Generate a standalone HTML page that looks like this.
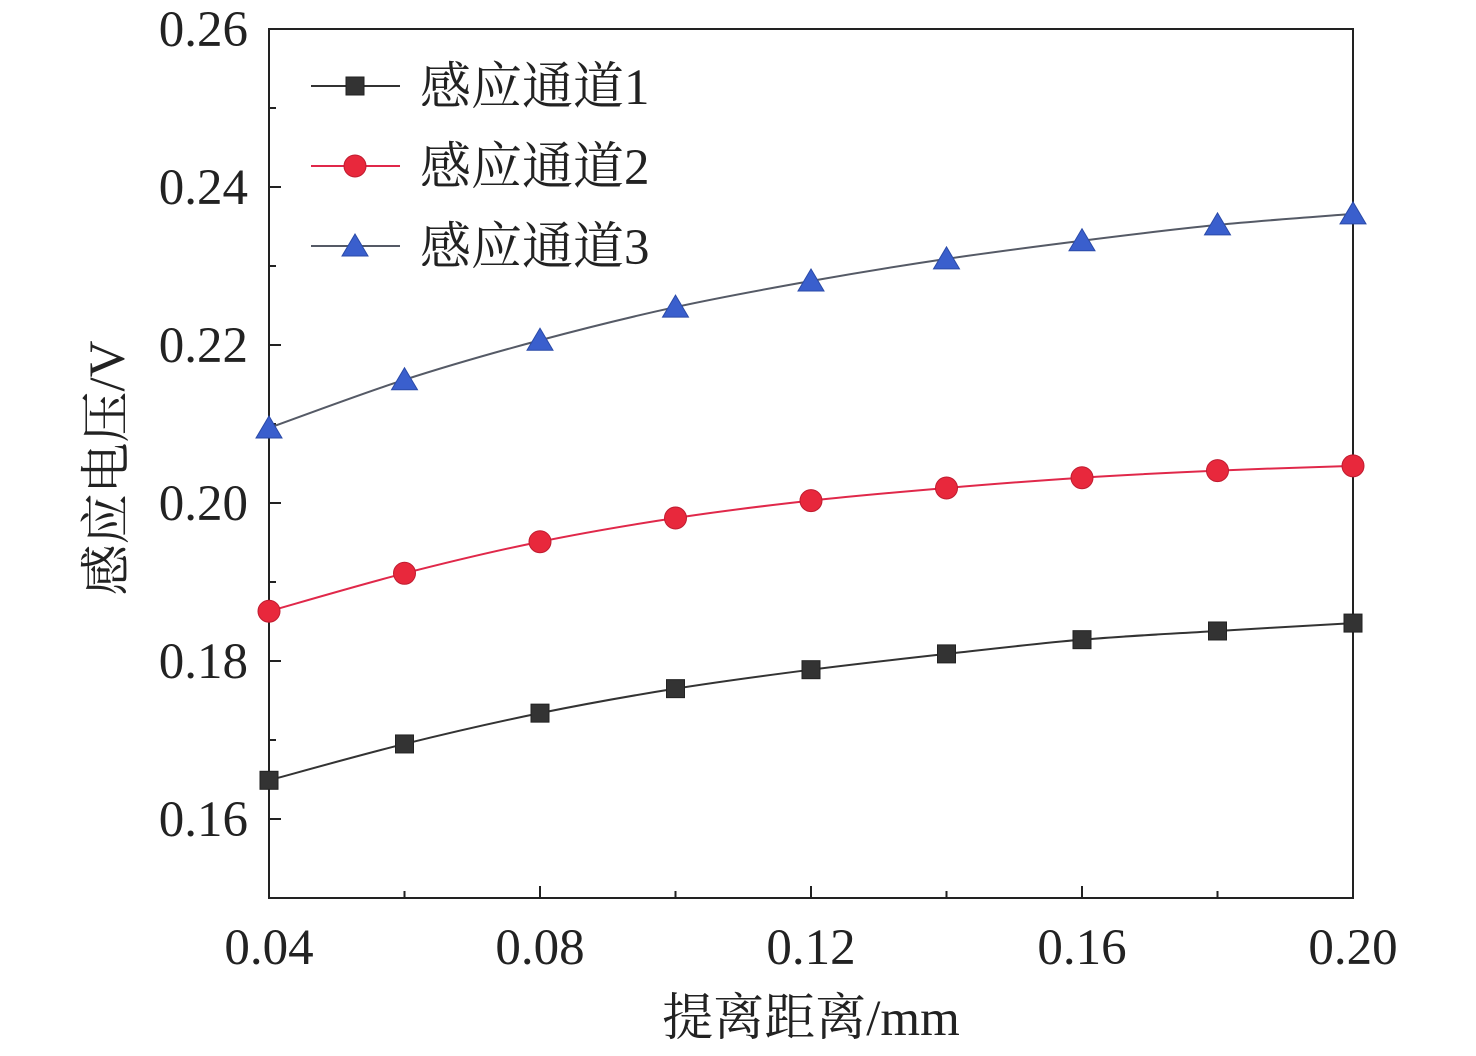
<!DOCTYPE html>
<html><head><meta charset="utf-8"><style>
body{margin:0;background:#fff}
svg text{font-family:"Liberation Serif","Noto Serif CJK SC",serif;fill:#222}
</style></head><body>
<svg id="chart" width="1476" height="1051" xmlns="http://www.w3.org/2000/svg">
<g id="axes"></g>
<g id="series"></g>
<g id="legend"></g>
<text x="811" y="1035" font-size="51" text-anchor="middle">提离距离/mm</text>
<text transform="translate(124,468) rotate(-90)" font-size="51" text-anchor="middle">感应电压/V</text>
</svg>
<script>
const xValues=[0.04,0.06,0.08,0.10,0.12,0.14,0.16,0.18,0.20];
const ch1=[0.1649,0.1695,0.1734,0.1765,0.1789,0.1809,0.1827,0.1838,0.1848];
const ch2=[0.1863,0.1911,0.1951,0.1981,0.2003,0.2019,0.2032,0.2041,0.2047];
const ch3=[0.2095,0.2156,0.2206,0.2248,0.2281,0.2309,0.2332,0.2352,0.2366];
const seriesNames=["感应通道1","感应通道2","感应通道3"];
const xTicks=[0.04,0.08,0.12,0.16,0.20];
const yTicks=[0.16,0.18,0.20,0.22,0.24,0.26];
const NS="http://www.w3.org/2000/svg";
const L=269,R=1353,T=29,B=898;
const sx=v=>L+(v-0.04)/(0.16)*(R-L);
const sy=v=>B-(v-0.15)/(0.11)*(B-T);
function mk(tag,attrs,parent){const e=document.createElementNS(NS,tag);for(const k in attrs)e.setAttribute(k,attrs[k]);parent.appendChild(e);return e;}
const axes=document.getElementById('axes');
let frame=mk('rect',{x:L,y:T,width:R-L,height:B-T,fill:'none',stroke:'#222','stroke-width':2},axes);


for(let v=0.15;v<=0.2601;v+=0.01){const y=sy(v);const major=Math.abs(Math.round(v*100)%2)==0;
 let t=mk('line',{x1:L,x2:L+(major?12:7),y1:y,y2:y,stroke:'#222','stroke-width':2},axes);
 
 }
for(let v=0.04;v<=0.2001;v+=0.02){const x=sx(v);const major=Math.round(v*100)%4==0;
 let t=mk('line',{x1:x,x2:x,y1:B,y2:B-(major?12:7),stroke:'#222','stroke-width':2},axes);
 
 }
yTicks.forEach(v=>{let t=mk('text',{x:248,y:sy(v)+17,'font-size':51,'text-anchor':'end'},axes);t.textContent=v.toFixed(2);
 
 });
xTicks.forEach(v=>{let t=mk('text',{x:sx(v),y:964,'font-size':51,'text-anchor':'middle'},axes);t.textContent=v.toFixed(2);
 
 });
const colors=[{line:'#333',fill:'#333',stroke:'#222'},{line:'#e0284a',fill:'#e8283c',stroke:'#c01c30'},{line:'#555a66',fill:'#3a5fcd',stroke:'#2a4aa8'}];
const shapes=['square','circle','triangle'];
function marker(g,shape,x,y,c){let e;
 if(shape=='square')e=mk('rect',{x:x-9,y:y-9,width:18,height:18,fill:c.fill,stroke:c.stroke,'stroke-width':1},g);
 else if(shape=='circle')e=mk('circle',{cx:x,cy:y,r:11,fill:c.fill,stroke:c.stroke,'stroke-width':1},g);
 else e=mk('polygon',{points:`${x},${y-12} ${x-13},${y+10} ${x+13},${y+10}`,fill:c.fill,stroke:c.stroke,'stroke-width':1},g);
 return e;}
const sg=document.getElementById('series');
[ch1,ch2,ch3].forEach((data,i)=>{
 const pts=data.map((v,j)=>[sx(xValues[j]),sy(v)]);
 let d=`M${pts[0][0]},${pts[0][1]}`;
 for(let j=0;j<pts.length-1;j++){const p0=pts[Math.max(0,j-1)],p1=pts[j],p2=pts[j+1],p3=pts[Math.min(pts.length-1,j+2)];
  d+=` C${p1[0]+(p2[0]-p0[0])/6},${p1[1]+(p2[1]-p0[1])/6} ${p2[0]-(p3[0]-p1[0])/6},${p2[1]-(p3[1]-p1[1])/6} ${p2[0]},${p2[1]}`;}
 let path=mk('path',{d:d,fill:'none',stroke:colors[i].line,'stroke-width':2},sg);
 
 
 pts.forEach(p=>{let m=marker(sg,shapes[i],p[0],p[1],colors[i]);
  
  });
});
const lg=document.getElementById('legend');
seriesNames.forEach((n,i)=>{const y=86+i*80;
 let l=mk('line',{x1:311,x2:400,y1:y,y2:y,stroke:colors[i].line,'stroke-width':2},lg);
 
 
 let m=marker(lg,shapes[i],355,y,colors[i]);
 
 
 let t=mk('text',{x:420,y:y+18,'font-size':51},lg);t.textContent=n;
 
 
});
</script>
</body></html>
